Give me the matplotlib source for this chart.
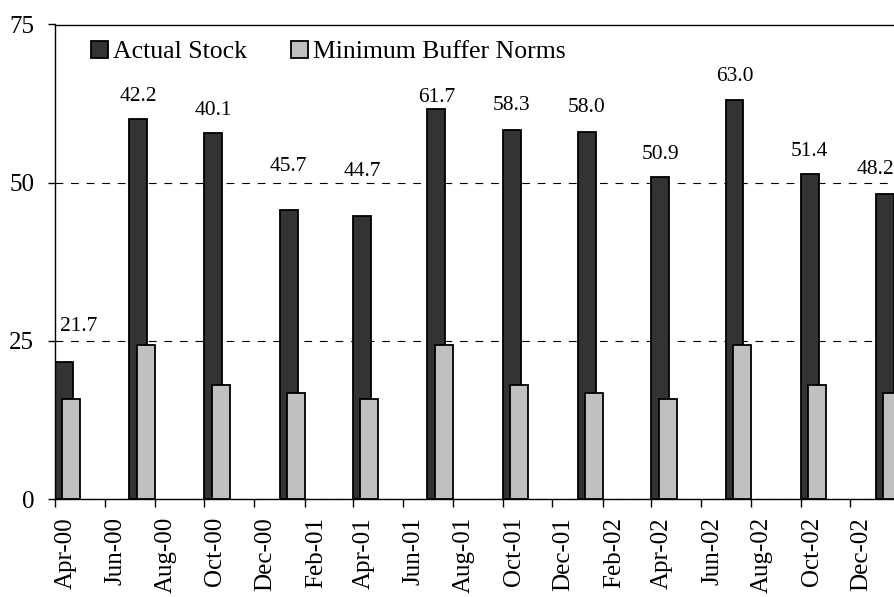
import pandas as pd
import matplotlib.pyplot as plt
import matplotlib.dates as mdates

# Фактический запас против минимальных нормативов буфера, поквартально

quarters = ["Apr-00", "Jul-00", "Oct-00", "Jan-01", "Apr-01", "Jul-01",
            "Oct-01", "Jan-02", "Apr-02", "Jul-02", "Oct-02", "Jan-03"]
actual_stock = [21.7, 60.1, 57.8, 45.7, 44.7, 61.7, 58.3, 58.0, 50.9, 63.0, 51.4, 48.2]
actual_labels = ["21.7", "42.2", "40.1", "45.7", "44.7", "61.7",
                 "58.3", "58.0", "50.9", "63.0", "51.4", "48.2"]
buffer_norms = [15.8, 24.4, 18.0, 16.8, 15.8, 24.4, 18.0, 16.8, 15.8, 24.4, 18.0, 16.8]

# сдвиги подписей (в пикселях) - как расставлены в исходнике
label_dy = [31, 18, 18, 39, 40, 7, 20, 20, 18, 19, 18, 20]
label_dx = [15, 0, 0, 0, 0, 0, 0, 0, 0, 0, 0, -9]

plt.rcParams["font.family"] = ["Liberation Serif", "DejaVu Serif"]

dates = pd.to_datetime(quarters, format="%b-%y")
x = mdates.date2num(dates)

fig = plt.figure(figsize=(8.94, 5.97), dpi=100)
ax = fig.add_axes([55 / 894, 98 / 597, 839 / 894, 474.5 / 597])

bar_w = 22  # дней
ax.bar(x, actual_stock, width=bar_w, align="edge", color="#333333",
       edgecolor="black", linewidth=1.3, label="Actual Stock", zorder=2)
ax.bar(x + 9, buffer_norms, width=bar_w, align="edge", color="#c0c0c0",
       edgecolor="black", linewidth=1.3, label="Minimum Buffer Norms", zorder=3)

for xi, h, txt, dy, dx in zip(x, actual_stock, actual_labels, label_dy, label_dx):
    ax.annotate(txt, (xi + bar_w / 2, h), xytext=(dx, dy),
                textcoords="offset pixels", ha="center", va="baseline",
                fontsize=15.5)

x0 = mdates.date2num(pd.Timestamp("2000-04-01"))
ax.set_xlim(x0, x0 + 839 / (597 / 731))
ax.set_ylim(0, 75)
ax.set_yticks([0, 25, 50, 75])

ax.xaxis.set_major_locator(mdates.MonthLocator(bymonth=range(2, 13, 2)))
ax.xaxis.set_major_formatter(mdates.DateFormatter("%b-%y"))
for lbl in ax.get_xticklabels():
    lbl.set_rotation(90)
    lbl.set_ha("left")

ax.tick_params(axis="x", direction="out", length=6, width=1, pad=7, labelsize=18)
ax.tick_params(axis="y", direction="out", length=5, width=1, pad=10, labelsize=18)

ax.yaxis.grid(True, color="black", linewidth=0.8, linestyle=(0, (7, 7)))
ax.set_axisbelow(True)
ax.spines["right"].set_visible(False)
for s in ["left", "bottom", "top"]:
    ax.spines[s].set_linewidth(1.0)

ax.legend(loc="center left", bbox_to_anchor=(91 / 894, 1 - 52 / 597),
          bbox_transform=fig.transFigure, ncol=2, frameon=False, fontsize=18.5,
          handlelength=0.67, handleheight=0.67, handletextpad=0.2,
          columnspacing=1.7, borderpad=0, borderaxespad=0)

fig.savefig("out.png", dpi=100)
